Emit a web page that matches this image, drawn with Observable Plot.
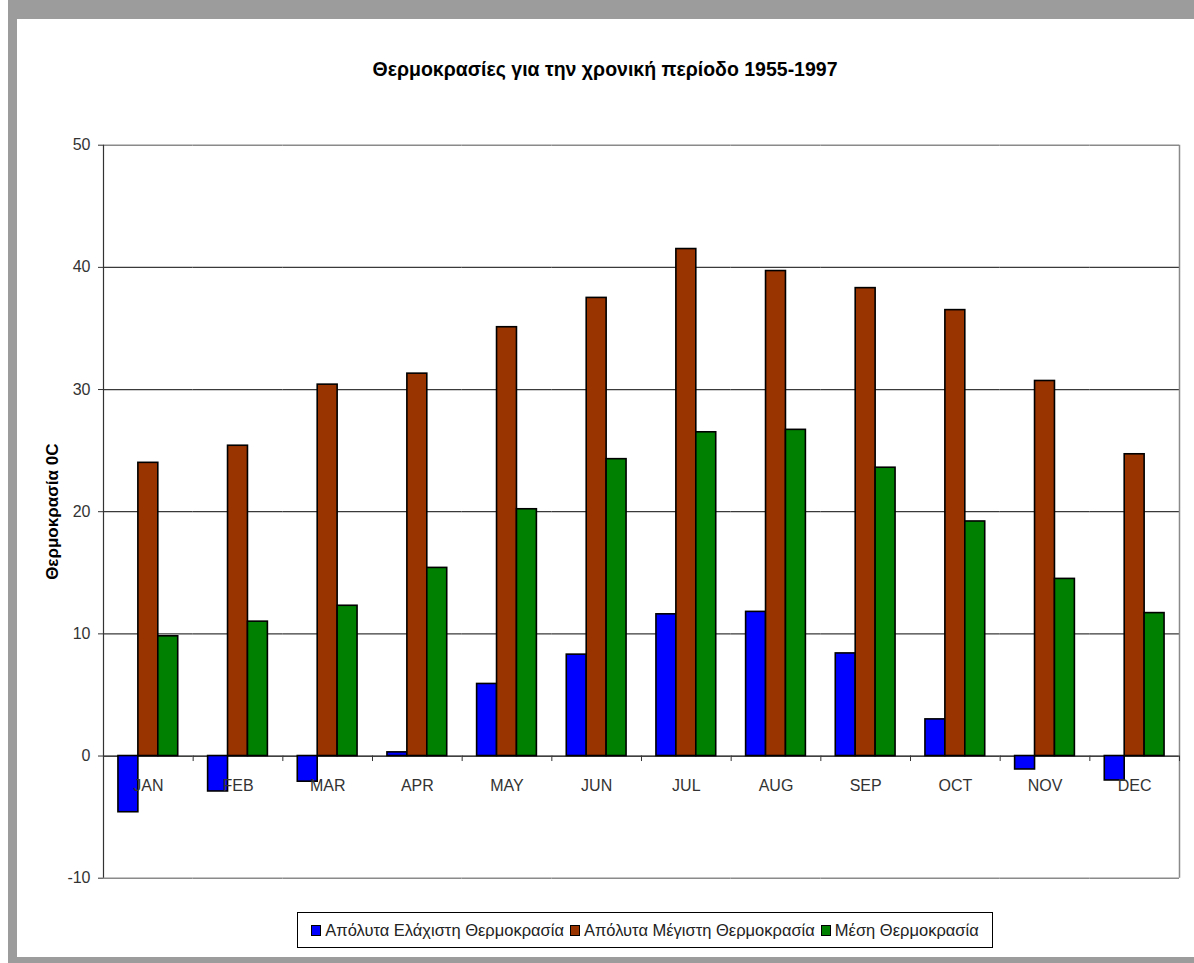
<!DOCTYPE html>
<html>
<head>
<meta charset="utf-8">
<script src="https://cdn.jsdelivr.net/npm/d3@7"></script>
<script src="https://cdn.jsdelivr.net/npm/@observablehq/plot@0.6"></script>
<style>
  html, body { margin: 0; padding: 0; background: #fff; }
  body { width: 1194px; height: 963px; position: relative; overflow: hidden;
         font-family: "Liberation Sans", Arial, sans-serif; }
  #frame { position: absolute; left: 8px; top: 0; width: 1200px; height: 938px;
           border-top: 19px solid #9c9c9c; border-left: 9px solid #9c9c9c; border-bottom: 6px solid #9c9c9c; }
  #title { position: absolute; top: 58px; left: 0; width: 1210px; text-align: center;
           font-weight: bold; font-size: 19.5px; color: #000; }
  #chart { position: absolute; left: 0; top: 110px; }
  #legend { position: absolute; left: 297px; top: 912px; width: 694px; height: 34px;
            border: 1px solid #000; display: flex; align-items: center; justify-content: center;
            font-size: 16.5px; color: #222; gap: 6px; }
  .item { display: flex; align-items: center; gap: 4px; }
  .sw { width: 8px; height: 9px; border: 1px solid #000; display: inline-block; }
</style>
</head>
<body>
<div id="frame"></div>
<div id="title">Θερμοκρασίες για την χρονική περίοδο 1955-1997</div>
<div id="chart"></div>
<div id="legend"></div>
<script>
const months = ["JAN","FEB","MAR","APR","MAY","JUN","JUL","AUG","SEP","OCT","NOV","DEC"];
const seriesNames = ["Απόλυτα Ελάχιστη Θερμοκρασία", "Απόλυτα Μέγιστη Θερμοκρασία", "Μέση Θερμοκρασία"];
const seriesColors = ["#0000ff", "#993300", "#008000"];
const minTemp  = [-4.6, -2.9, -2.1, 0.3, 5.9, 8.3, 11.6, 11.8, 8.4, 3.0, -1.1, -2.0];
const maxTemp  = [24.0, 25.4, 30.4, 31.3, 35.1, 37.5, 41.5, 39.7, 38.3, 36.5, 30.7, 24.7];
const meanTemp = [9.8, 11.0, 12.3, 15.4, 20.2, 24.3, 26.5, 26.7, 23.6, 19.2, 14.5, 11.7];
const yTicks = [-10, 0, 10, 20, 30, 40, 50];
const yLabel = "Θερμοκρασία 0C";

const seriesValues = [minTemp, maxTemp, meanTemp];
const table = [];
months.forEach((m, i) => seriesNames.forEach((s, j) => table.push({month: m, series: s, value: seriesValues[j][i]})));

const W = 1194, H = 800, ML = 103, MR = 15, MT = 34.7, MB = 32.3;
const half = (W - ML - MR) / months.length / 2;
const font = '"Liberation Sans", Arial, sans-serif';

const chart = Plot.plot({
  width: W, height: H,
  marginLeft: ML, marginRight: MR, marginTop: MT, marginBottom: MB,
  style: {fontFamily: font, background: "transparent"},
  fx: {domain: months, padding: 0, round: false, axis: null},
  x: {domain: seriesNames, paddingInner: 0, paddingOuter: 0.75, round: false, axis: null},
  y: {domain: [-10, 50], axis: null},
  color: {domain: seriesNames, range: seriesColors},
  marks: [
    Plot.ruleY([10, 20, 30, 40], {stroke: "#3a3a3a", strokeWidth: 1.2}),
    Plot.ruleY([50, -10], {stroke: "#8a8a8a", strokeWidth: 1.5}),
    Plot.ruleY([0], {stroke: "#000", strokeWidth: 1.2}),
    Plot.barY(table, {fx: "month", x: "series", y: "value", fill: "series", stroke: "#000", strokeWidth: 1.6}),
    Plot.ruleX(months, {fx: d => d, x: null, y1: 0, y2: -0.45, dx: -half, stroke: "#333"}),
    Plot.ruleX(["DEC"], {fx: d => d, x: null, y1: -10, y2: 50, dx: half, stroke: "#8a8a8a", strokeWidth: 1.5}),
    Plot.ruleX(["DEC"], {fx: d => d, x: null, y1: 0, y2: -0.45, dx: half, stroke: "#333"}),
    Plot.ruleX(["JAN"], {fx: d => d, x: null, y1: -10, y2: 50, dx: -half, stroke: "#333", strokeWidth: 1.2}),
    Plot.text(months, {fx: d => d, y: 0, dy: 30, text: d => d, fontSize: 16, fill: "#333"}),
    Plot.axisY({ticks: yTicks, tickFormat: d => String(d), tickSize: 5, tickPadding: 8, fontSize: 16,
      fill: "#333", stroke: "#333", label: null}),
    Plot.text([yLabel], {fx: () => "JAN", frameAnchor: "left", textAnchor: "middle", dx: -51, rotate: -90,
      text: d => d, fontSize: 17, fontWeight: "bold", fill: "#000"})
  ]
});
document.getElementById("chart").appendChild(chart);

const legend = document.getElementById("legend");
seriesNames.forEach((s, i) => {
  const it = document.createElement("span");
  it.className = "item";
  const sw = document.createElement("span");
  sw.className = "sw";
  sw.style.background = seriesColors[i];
  const t = document.createElement("span");
  t.textContent = s;
  it.appendChild(sw); it.appendChild(t);
  legend.appendChild(it);
});
</script>
</body>
</html>
